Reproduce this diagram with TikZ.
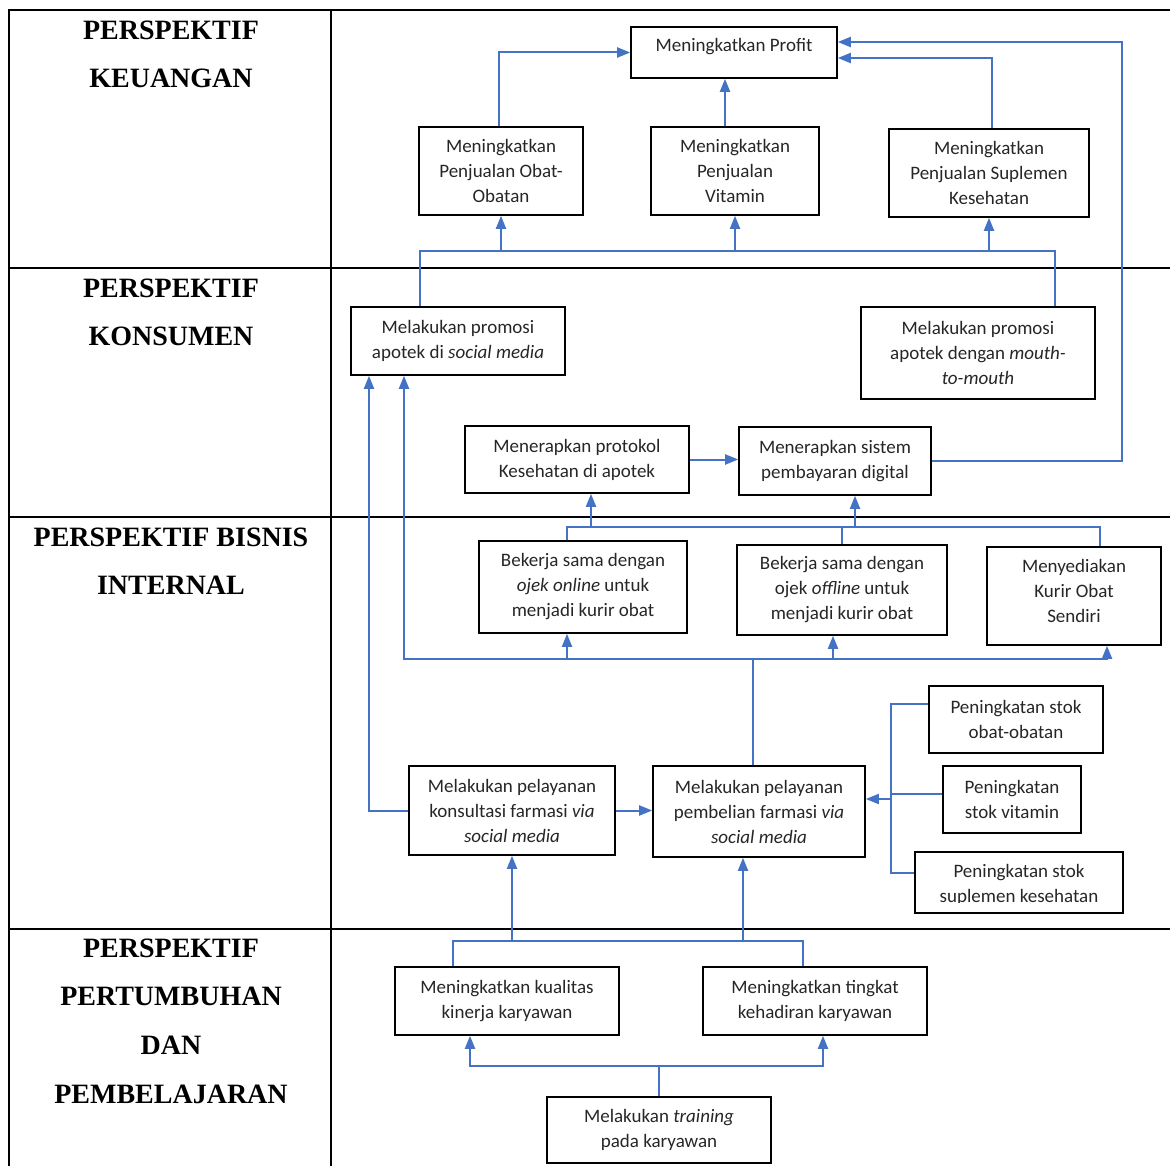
\documentclass[tikz,border=0pt]{standalone}
\usepackage{fontspec}
\setmainfont{Carlito}
\newfontfamily\hdrfont{Liberation Serif}
\usetikzlibrary{arrows.meta}
\definecolor{lnblue}{RGB}{68,114,196}
\tikzset{
  box/.style={draw=black, line width=1.6pt, align=center, inner sep=0pt,
    font={\fontsize{19}{25}\selectfont}, text=black!85},
  hdr/.style={anchor=north, align=center, inner sep=0pt,
    font={\hdrfont\bfseries\fontsize{28}{48.7}\selectfont}},
  tline/.style={draw=black, line width=1.6pt},
  conn/.style={draw=lnblue, line width=2pt},
  arr/.style={conn, -{Triangle[length=13pt,width=10pt]}},
}
\begin{document}
\begin{tikzpicture}[x=1pt,y=-1pt]
\useasboundingbox (0,0) rectangle (1170,1166);
% table
\draw[tline] (9,1166) -- (9,10) -- (1170,10);
\draw[tline] (331,10) -- (331,1166);
\draw[tline] (9,268) -- (1170,268);
\draw[tline] (9,517) -- (1170,517);
\draw[tline] (9,929) -- (1170,929);
% headers
\node[hdr] (h1) at (171,20.5) {PERSPEKTIF\\KEUANGAN};
\node[hdr] (h2) at (171,278.5) {PERSPEKTIF\\KONSUMEN};
\node[hdr] (h3) at (171,527.5) {PERSPEKTIF BISNIS\\INTERNAL};
\node[hdr] (h4) at (171,938.5) {PERSPEKTIF\\PERTUMBUHAN\\DAN\\PEMBELAJARAN};
% boxes
\node[box, minimum width=206pt, minimum height=51pt, text depth=15pt] (profit) at (734,52.5) {Meningkatkan Profit};
\node[box, minimum width=164pt, minimum height=88pt] (obat) at (501,171) {Meningkatkan\\Penjualan Obat-\\Obatan};
\node[box, minimum width=168pt, minimum height=88pt] (vit) at (735,171) {Meningkatkan\\Penjualan\\Vitamin};
\node[box, minimum width=200pt, minimum height=88pt] (sup) at (989,173) {Meningkatkan\\Penjualan Suplemen\\Kesehatan};
\node[box, minimum width=214pt, minimum height=68pt] (promo) at (458,341) {Melakukan promosi\\apotek di \textit{social media}};
\node[box, minimum width=234pt, minimum height=92pt] (mouth) at (978,353) {Melakukan promosi\\apotek dengan \textit{mouth-}\\\textit{to-mouth}};
\node[box, minimum width=224pt, minimum height=67pt] (prot) at (577,459.5) {Menerapkan protokol\\Kesehatan di apotek};
\node[box, minimum width=192pt, minimum height=68pt] (digi) at (835,461) {Menerapkan sistem\\pembayaran digital};
\node[box, minimum width=208pt, minimum height=92pt] (onl) at (583,587) {Bekerja sama dengan\\\textit{ojek online} untuk\\menjadi kurir obat};
\node[box, minimum width=210pt, minimum height=90pt] (off) at (842,590) {Bekerja sama dengan\\ojek \textit{offline} untuk\\menjadi kurir obat};
\node[box, minimum width=174pt, minimum height=98pt, text depth=10pt] (kurir) at (1074,596) {Menyediakan\\Kurir Obat\\Sendiri};
\node[box, minimum width=206pt, minimum height=89pt] (kons) at (512,810.5) {Melakukan pelayanan\\konsultasi farmasi \textit{via}\\\textit{social media}};
\node[box, minimum width=212pt, minimum height=91pt] (beli) at (759,811.5) {Melakukan pelayanan\\pembelian farmasi \textit{via}\\\textit{social media}};
\node[box, minimum width=174pt, minimum height=67pt] (sobat) at (1016,719.5) {Peningkatan stok\\obat-obatan};
\node[box, minimum width=138pt, minimum height=67pt] (svit) at (1012,799.5) {Peningkatan\\stok vitamin};
\node[box, minimum width=208pt, minimum height=61pt] (ssup) at (1019,882.5) {};
\begin{scope}
\clip ([yshift=11pt]ssup.south west) rectangle (ssup.north east);
\node[box, draw=none] (ssuptxt) at ([yshift=-2pt]ssup.center) {Peningkatan stok\\suplemen kesehatan};
\end{scope}
\node[box, minimum width=224pt, minimum height=68pt] (kual) at (507,1001) {Meningkatkan kualitas\\kinerja karyawan};
\node[box, minimum width=224pt, minimum height=68pt] (hadir) at (815,1001) {Meningkatkan tingkat\\kehadiran karyawan};
\node[box, minimum width=224pt, minimum height=66pt] (train) at (659,1130) {Melakukan \textit{training}\\pada karyawan};
% coordinates
\coordinate (rc) at (1122,42);
\coordinate (b1L) at (420,251);
\coordinate (b1R) at (1055,251);
\coordinate (b2R) at (1100,527);
\coordinate (busC) at (753,659);
\coordinate (busL) at (404,659);
\coordinate (busR) at (1107,659);
\coordinate (brkT) at (891,704);
\coordinate (brkB) at (891,873);
\coordinate (brk) at (891,799);
\coordinate (b4R) at (803,941);
\coordinate (tb) at (659,1066);
% keuangan
\draw[arr] ([xshift=-2pt]obat.north) |- (profit.west);
\draw[arr] ([xshift=-10pt]vit.north) -- ([xshift=-10pt]vit.north |- profit.south);
\draw[arr] ([xshift=3pt]sup.north) |- ([yshift=-5.5pt]profit.east);
\draw[arr] (digi.east) -| (rc) -- (profit.east |- rc);
% bus row 1/2
\draw[conn] ([xshift=-38pt]promo.north) -- (b1L) -- (b1R) -- ([xshift=77pt]mouth.north);
\draw[arr] (obat.south |- b1L) -- (obat.south);
\draw[arr] (vit.south |- b1L) -- (vit.south);
\draw[arr] (sup.south |- b1L) -- (sup.south);
% konsumen
\draw[arr] (prot.east) -- (prot.east -| digi.west);
% bus row 2/3
\draw[conn] ([xshift=-16pt]onl.north) |- (b2R) -- (kurir.north -| b2R);
\draw[conn] (off.north) -- (off.north |- b2R);
\draw[arr] ([xshift=14pt]prot.south |- b2R) -- ([xshift=14pt]prot.south);
\draw[arr] ([xshift=20pt]digi.south |- b2R) -- ([xshift=20pt]digi.south);
% bus row 3
\draw[arr] ([xshift=-6pt]beli.north) |- (busL) -- (busL |- promo.south);
\draw[arr] (busC) -- (busR) -- (busR |- kurir.south);
\draw[arr] ([xshift=-16pt]onl.south |- busC) -- ([xshift=-16pt]onl.south);
\draw[arr] ([xshift=-9pt]off.south |- busC) -- ([xshift=-9pt]off.south);
\draw[arr] (kons.west) -| ([xshift=-89pt]promo.south);
\draw[arr] (kons.east) -- (kons.east -| beli.west);
% stock bracket
\draw[conn] ([yshift=15.5pt]sobat.west) -- (brkT) -- (brkB) -- (ssup.west |- brkB);
\draw[conn] ([yshift=6pt]svit.west) -- (brk |- 0,793.5);
\draw[arr] (brk) -- (brk -| beli.east);
% row 4
\draw[conn] ([xshift=-54pt]kual.north) |- (b4R) -- ([xshift=-12pt]hadir.north);
\draw[arr] (kons.south |- b4R) -- (kons.south);
\draw[arr] ([xshift=-16pt]beli.south |- b4R) -- ([xshift=-16pt]beli.south);
\draw[conn] (train.north) -- (tb);
\draw[arr] (tb) -| ([xshift=-37pt]kual.south);
\draw[arr] (tb) -| ([xshift=8pt]hadir.south);
\end{tikzpicture}
\end{document}
